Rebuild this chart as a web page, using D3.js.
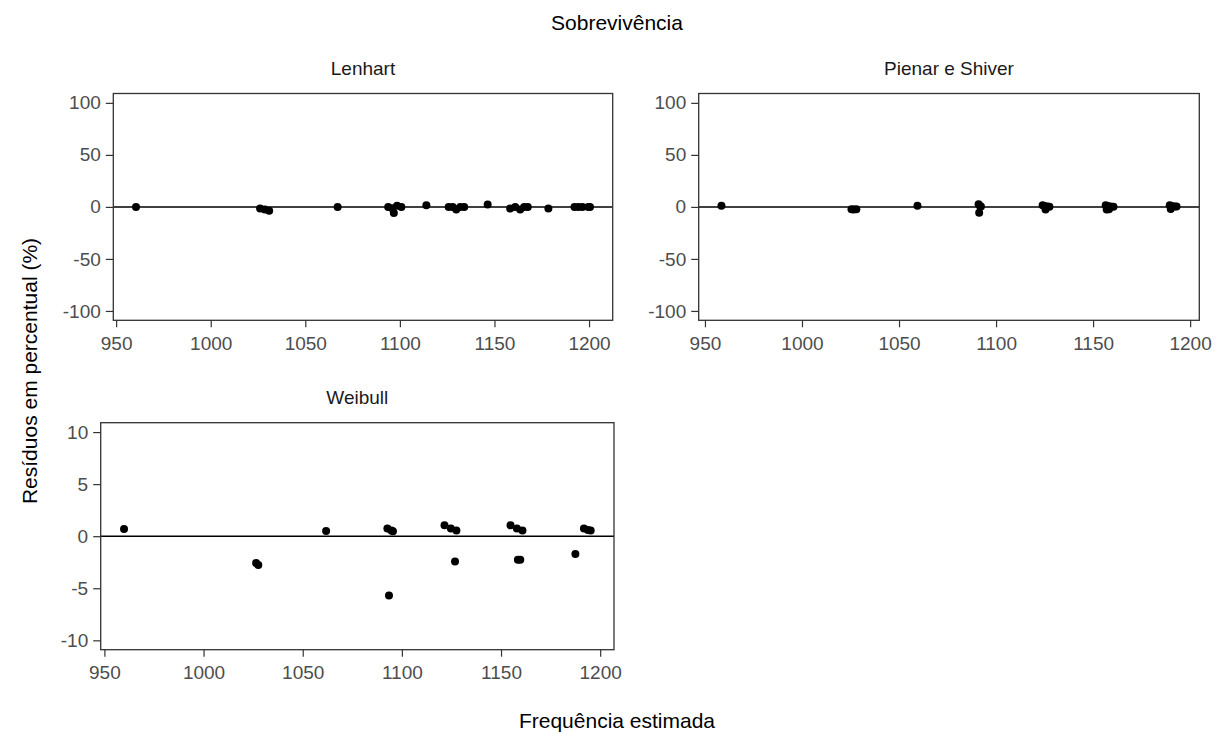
<!DOCTYPE html>
<html>
<head>
<meta charset="utf-8">
<script src="https://cdn.jsdelivr.net/npm/d3@7"></script>
<style>
  html, body { margin: 0; padding: 0; background: #fff; }
  svg { display: block; font-family: "Liberation Sans", Arial, sans-serif; }
</style>
</head>
<body>
<svg id="chart" width="1229" height="738"></svg>
<script>
// Estimated frequency (x) and percentage residual (y) for each survival model
const lenhartX = [960.5, 1026.1, 1028.6, 1030.9, 1067.1, 1093.8, 1095.9, 1096.8, 1098.5, 1100.8,
                  1114.0, 1125.8, 1127.9, 1129.8, 1131.9, 1134.0, 1146.4, 1158.3, 1161.0, 1163.6,
                  1165.7, 1167.6, 1178.5, 1192.3, 1194.4, 1196.5, 1199.6, 1200.5];
const lenhartY = [0.0, -1.6, -2.6, -3.6, 0.0, 0.0, -1.2, -5.8, 1.0, 0.0,
                  1.6, 0.0, 0.0, -2.6, 0.0, 0.0, 2.2, -1.6, 0.0, -2.6,
                  0.0, 0.0, -1.6, 0.0, 0.0, 0.0, 0.0, 0.0];

const pienarX = [958.5, 1025.5, 1026.6, 1028.0, 1059.5, 1091.3, 1091.0, 1091.8, 1092.2,
                 1124.0, 1125.0, 1125.5, 1126.5, 1127.5, 1156.5, 1157.0, 1157.5, 1158.2, 1159.0,
                 1160.5, 1189.5, 1190.0, 1190.5, 1192.0, 1193.0];
const pienarY = [1.2, -2.2, -2.4, -2.2, 1.2, -5.6, 2.6, 0.6, 0.4,
                 1.6, 0.8, -2.4, 0.4, 0.2, 1.6, -2.4, 0.8, -2.2, 0.4,
                 0.2, 1.6, -2.0, 0.8, 0.4, 0.3];

const weibullX = [959.9, 1026.5, 1027.6, 1061.8, 1092.7, 1093.5, 1094.7, 1095.5,
                  1121.5, 1124.7, 1126.8, 1127.5, 1154.8, 1158.0, 1158.5, 1159.7, 1160.8,
                  1187.5, 1191.8, 1193.8, 1195.2];
const weibullY = [0.70, -2.58, -2.77, 0.51, 0.73, -5.70, 0.54, 0.48,
                  1.05, 0.73, -2.42, 0.54, 1.05, 0.73, -2.26, -2.26, 0.54,
                  -1.72, 0.73, 0.60, 0.54];

const xTicks = [950, 1000, 1050, 1100, 1150, 1200];
const yTicksWide = [-100, -50, 0, 50, 100];
const yTicksNarrow = [-10, -5, 0, 5, 10];
const yLimitsWide = [-109, 109];
const yLimitsNarrow = [-10.9, 10.9];

const panels = [
  { title: "Lenhart",          xs: lenhartX, ys: lenhartY, yLim: yLimitsWide,   yTicks: yTicksWide,
    box: { l: 113.3, r: 612.7, t: 93.5, b: 320.3 } },
  { title: "Pienar e Shiver",  xs: pienarX,  ys: pienarY,  yLim: yLimitsWide,   yTicks: yTicksWide,
    box: { l: 698.7, r: 1199.3, t: 93.5, b: 320.3 } },
  { title: "Weibull",          xs: weibullX, ys: weibullY, yLim: yLimitsNarrow, yTicks: yTicksNarrow,
    box: { l: 100.7, r: 614.0, t: 422.7, b: 649.7 } }
];

const svg = d3.select("#chart");
const tickColor = "#4d4d4d";
const lineColor = "#333333";
const tickFont = 19;
// plain hyphen for negative tick labels
const fmt = d => String(d);

panels.forEach(p => {
  const { l, r, t, b } = p.box;
  // free x scale per panel with 5% padding around the data
  const [xmin, xmax] = d3.extent(p.xs);
  const pad = (xmax - xmin) * 0.05;
  const x = d3.scaleLinear().domain([xmin - pad, xmax + pad]).range([l, r]);
  const y = d3.scaleLinear().domain(p.yLim).range([b, t]);

  const g = svg.append("g");

  // strip title
  g.append("text")
    .attr("x", (l + r) / 2).attr("y", t - 19)
    .attr("text-anchor", "middle")
    .attr("font-size", 19).attr("fill", "#1a1a1a")
    .text(p.title);

  // x axis
  const xAxis = d3.axisBottom(x).tickValues(xTicks).tickFormat(fmt)
    .tickSize(7).tickPadding(9);
  const gx = g.append("g").attr("transform", `translate(0,${b})`).call(xAxis);
  gx.select(".domain").remove();
  gx.selectAll(".tick line").attr("stroke", lineColor).attr("stroke-width", 1.2);
  gx.selectAll(".tick text").attr("fill", tickColor).attr("font-size", tickFont)
    .attr("font-family", "Liberation Sans, Arial, sans-serif");

  // y axis
  const yAxis = d3.axisLeft(y).tickValues(p.yTicks).tickFormat(fmt)
    .tickSize(7.5).tickPadding(5);
  const gy = g.append("g").attr("transform", `translate(${l},0)`).call(yAxis);
  gy.select(".domain").remove();
  gy.selectAll(".tick line").attr("stroke", lineColor).attr("stroke-width", 1.2);
  gy.selectAll(".tick text").attr("fill", tickColor).attr("font-size", tickFont)
    .attr("font-family", "Liberation Sans, Arial, sans-serif");

  // zero reference line
  g.append("line")
    .attr("x1", l).attr("x2", r)
    .attr("y1", y(0)).attr("y2", y(0))
    .attr("stroke", "#000").attr("stroke-width", 1.5);

  // points
  g.append("g").selectAll("circle")
    .data(d3.zip(p.xs, p.ys))
    .join("circle")
    .attr("cx", d => x(d[0]))
    .attr("cy", d => y(d[1]))
    .attr("r", 4)
    .attr("fill", "#000");

  // panel border
  g.append("rect")
    .attr("x", l).attr("y", t)
    .attr("width", r - l).attr("height", b - t)
    .attr("fill", "none").attr("stroke", lineColor).attr("stroke-width", 1.3);
});

// overall title
svg.append("text")
  .attr("x", 617).attr("y", 30)
  .attr("text-anchor", "middle")
  .attr("font-size", 21).attr("fill", "#000")
  .text("Sobrevivência");

// axis titles
svg.append("text")
  .attr("x", 617).attr("y", 728)
  .attr("text-anchor", "middle")
  .attr("font-size", 21).attr("fill", "#000")
  .text("Frequência estimada");

svg.append("text")
  .attr("transform", "translate(37,371) rotate(-90)")
  .attr("text-anchor", "middle")
  .attr("font-size", 21).attr("fill", "#000")
  .text("Resíduos em percentual (%)");
</script>
</body>
</html>
